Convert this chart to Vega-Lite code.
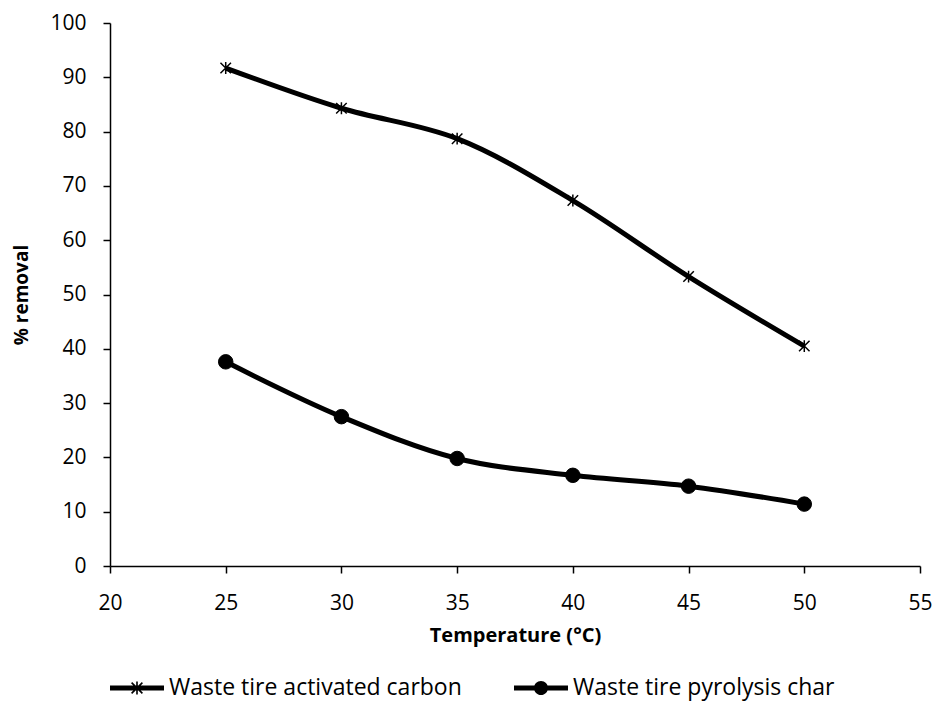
{
  "$schema": "https://vega.github.io/schema/vega-lite/v6.json",
  "autosize": {"type": "none"},
  "width": 810,
  "height": 543,
  "padding": {"left": 110, "top": 23, "right": 13, "bottom": 136},
  "background": "white",
  "config": {
    "font": "Open Sans",
    "view": {"stroke": null}
  },
  "data": {"values": [
    {"t": 25, "r": 91.7, "s": "Waste tire activated carbon"},
    {"t": 30, "r": 84.3, "s": "Waste tire activated carbon"},
    {"t": 35, "r": 78.7, "s": "Waste tire activated carbon"},
    {"t": 40, "r": 67.3, "s": "Waste tire activated carbon"},
    {"t": 45, "r": 53.3, "s": "Waste tire activated carbon"},
    {"t": 50, "r": 40.5, "s": "Waste tire activated carbon"},
    {"t": 25, "r": 37.6, "s": "Waste tire pyrolysis char"},
    {"t": 30, "r": 27.5, "s": "Waste tire pyrolysis char"},
    {"t": 35, "r": 19.8, "s": "Waste tire pyrolysis char"},
    {"t": 40, "r": 16.7, "s": "Waste tire pyrolysis char"},
    {"t": 45, "r": 14.7, "s": "Waste tire pyrolysis char"},
    {"t": 50, "r": 11.4, "s": "Waste tire pyrolysis char"}
  ]},
  "encoding": {
    "x": {"field": "t", "type": "quantitative", "scale": {"domain": [20, 55], "nice": false, "zero": false},
      "axis": {"values": [20, 25, 30, 35, 40, 45, 50, 55], "title": "Temperature (°C)", "labelPadding": 19, "titlePadding": 12,
        "grid": false, "labelFlush": false, "labelOverlap": false, "domainColor": "black", "domainWidth": 1.5, "tickColor": "black", "tickWidth": 1.5, "tickSize": 7,
        "labelColor": "black", "labelFontSize": 21, "labelFont": "Open Sans", "titleFont": "Open Sans", "titleFontSize": 20, "titleFontWeight": "bold", "titleColor": "black"}},
    "y": {"field": "r", "type": "quantitative", "scale": {"domain": [0, 100], "nice": false},
      "axis": {"values": [0, 10, 20, 30, 40, 50, 60, 70, 80, 90, 100], "title": "% removal", "labelPadding": 17, "titlePadding": 18,
        "grid": false, "labelFlush": false, "labelOverlap": false, "domainColor": "black", "domainWidth": 1.5, "tickColor": "black", "tickWidth": 1.5, "tickSize": 7,
        "labelColor": "black", "labelFontSize": 21, "labelFont": "Open Sans", "titleFont": "Open Sans", "titleFontSize": 19, "titleFontWeight": "bold", "titleColor": "black"}}
  },
  "layer": [
    {"mark": {"type": "line", "interpolate": "catmull-rom", "color": "black", "strokeWidth": 5},
     "encoding": {"detail": {"field": "s"}}},
    {"transform": [{"filter": "datum.s === 'Waste tire activated carbon'"}],
     "mark": {"type": "point", "shape": "M0,-0.85L0,0.85M-0.75,-0.75L0.75,0.75M-0.75,0.75L0.75,-0.75", "filled": false, "stroke": "black", "strokeWidth": 1.5, "opacity": 1, "size": 196}},
    {"transform": [{"filter": "datum.s === 'Waste tire pyrolysis char'"}],
     "mark": {"type": "point", "shape": "circle", "filled": true, "fill": "black", "stroke": "black", "strokeWidth": 1, "opacity": 1, "size": 210}},
    {"transform": [{"filter": "false"}],
     "mark": {"type": "point", "filled": true, "fill": "black", "stroke": "black", "strokeWidth": 0, "opacity": 1, "size": 2916},
     "encoding": {
       "shape": {"field": "s", "type": "nominal",
         "scale": {"domain": ["Waste tire activated carbon", "Waste tire pyrolysis char"],
                   "range": ["M-1,-0.093L1,-0.093L1,0.093L-1,0.093ZM-0.03,-0.24L0.03,-0.24L0.03,0.24L-0.03,0.24ZM-0.221,-0.179L-0.179,-0.221L0.221,0.179L0.179,0.221ZM-0.179,0.221L-0.221,0.179L0.179,-0.221L0.221,-0.179Z",
                             "M-1,-0.093L1,-0.093L1,0.093L-1,0.093ZM-0.26,0A0.26,0.26 0 1,1 0.26,0A0.26,0.26 0 1,1 -0.26,0Z"]},
         "legend": {"orient": "none", "legendX": 0, "legendY": 638, "direction": "horizontal", "title": null, "symbolSize": 2916,
           "symbolFillColor": "black", "symbolStrokeColor": "black", "symbolStrokeWidth": 0, "symbolOpacity": 1,
           "labelFontSize": 23, "labelFont": "Open Sans", "labelColor": "black", "labelLimit": 500, "labelOffset": 5, "columnPadding": 52}
       }
     }}
  ]
}
